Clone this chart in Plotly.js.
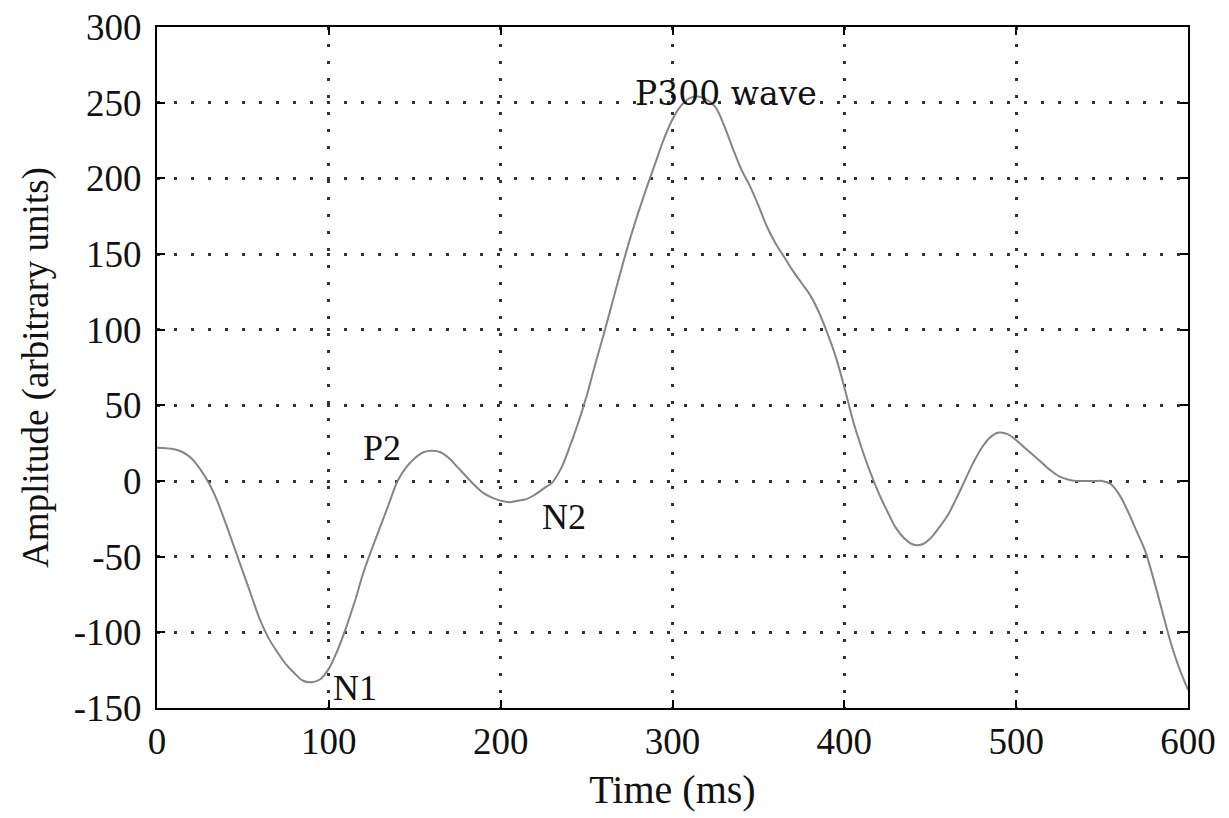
<!DOCTYPE html>
<html>
<head>
<meta charset="utf-8">
<script src="https://cdn.plot.ly/plotly-3.0.1.min.js"></script>
<style>html,body{margin:0;padding:0;background:#fff;}#chart{width:1229px;height:818px;}</style>
</head>
<body>
<div id="chart"></div>
<script>
// Time (ms)
const timeMs = [0,10,15,20,25,30,35,40,45,50,55,60,65,70,75,80,85,90,95,100,105,110,115,120,125,130,135,140,145,150,155,160,165,170,175,180,185,190,195,200,205,210,215,220,225,230,235,240,245,250,255,260,265,270,275,280,285,290,295,300,305,310,315,320,325,330,335,340,345,350,355,360,365,370,375,380,385,390,395,400,405,410,415,420,425,430,435,440,445,450,455,460,465,470,475,480,485,490,495,500,505,510,515,520,525,530,535,540,545,550,555,560,565,570,575,580,585,590,595,600];
// Amplitude (arbitrary units)
const amplitude = [22,21,19,15,8,-1,-13,-28,-44,-60,-76,-92,-104,-113,-121,-127,-132,-133,-131,-124,-112,-97,-80,-61,-45,-30,-15,0,9,15,19,20,19,15,9,3,-3,-8,-11,-13,-14,-13,-12,-9,-5,-1,8,22,38,56,77,97,118,139,159,177,194,210,226,239,248,253,254,252,247,235,220,206,195,182,168,157,148,139,131,123,112,98,82,62,40,22,6,-8,-20,-31,-38,-42,-42,-38,-31,-23,-12,0,12,22,29,32,31,27,22,17,12,7,3,1,0,0,0,0,-2,-9,-20,-33,-46,-65,-86,-107,-124,-138];

const xTicks = [0,100,200,300,400,500,600];
const yTicks = [-150,-100,-50,0,50,100,150,200,250,300];

const labels = ["N1","P2","N2","P300 wave"];
const labelX = [115,131,237,331];
const labelY = [-137,22,-24,256];

const serif = "Liberation Serif, Times New Roman, serif";

const trace = {
  x: timeMs, y: amplitude, type: "scatter", mode: "lines",
  line: {color: "#858585", width: 2, shape: "spline", smoothing: 1},
  hoverinfo: "skip"
};

const annotations = labels.map((t, i) => ({
  text: t, x: labelX[i], y: labelY[i], xref: "x", yref: "y",
  showarrow: false,
  font: {family: t === "P300 wave" ? "DejaVu Serif, serif" : serif, size: t === "P300 wave" ? 33 : 36, color: "#111"}
}));

const axisCommon = {
  showline: true, linecolor: "#000", linewidth: 2, mirror: "ticks",
  ticks: "inside", ticklen: 8, tickwidth: 2, tickcolor: "#000",
  showgrid: true, gridcolor: "rgba(0,0,0,0.8)", gridwidth: 3, griddash: "3px,14px",
  zeroline: false,
  tickfont: {family: serif, size: 37, color: "#111"}
};

const layout = {
  width: 1229, height: 818,
  margin: {l: 157, r: 41, t: 27, b: 110},
  paper_bgcolor: "#fff", plot_bgcolor: "#fff",
  showlegend: false,
  xaxis: Object.assign({}, axisCommon, {
    range: [0, 600], tickvals: xTicks, ticktext: xTicks.map(String),
    title: {text: "Time (ms)", font: {family: serif, size: 40, color: "#111"}, standoff: 14}
  }),
  yaxis: Object.assign({}, axisCommon, {
    range: [-150, 300], tickvals: yTicks, ticktext: yTicks.map(String),
    ticklabelstandoff: 6,
    title: {text: "Amplitude (arbitrary units)", font: {family: serif, size: 37, color: "#111"}, standoff: 14}
  }),
  annotations: annotations
};

Plotly.newPlot("chart", [trace], layout, {displayModeBar: false, staticPlot: true});
</script>
</body>
</html>
